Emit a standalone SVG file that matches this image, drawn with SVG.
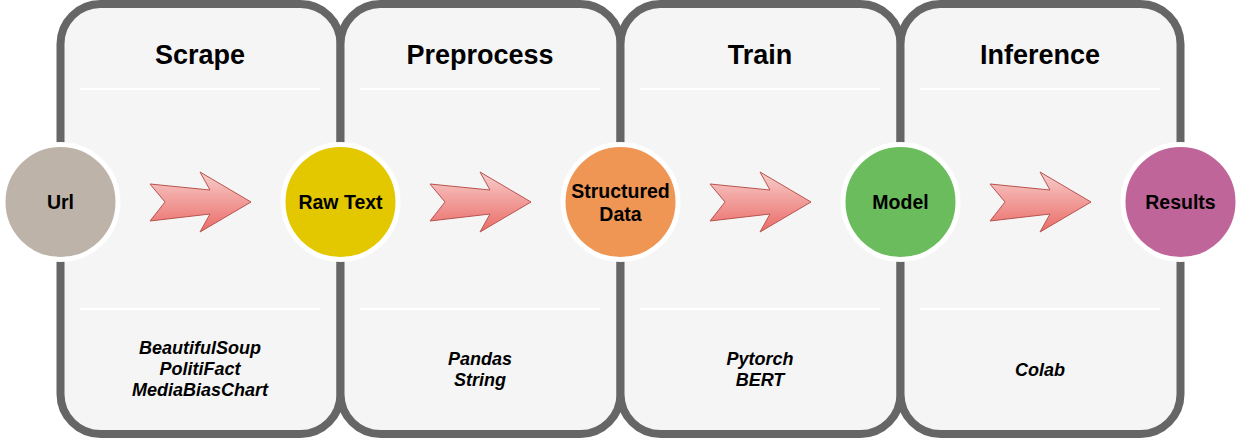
<svg xmlns="http://www.w3.org/2000/svg" width="1241" height="438" viewBox="0 0 1241 438">
<defs>
<linearGradient id="ag" x1="0" y1="0" x2="0" y2="1">
<stop offset="0" stop-color="#f8cecc"/>
<stop offset="1" stop-color="#ea6b66"/>
</linearGradient>
<polygon id="arrow" points="150,184 165,202 150,221 210,214 200,232 251,202 200,172 210,190"/>
</defs>
<style>
.panel{fill:#f5f5f5;stroke:#666666;stroke-width:8}
.sep{stroke:#ffffff;stroke-width:2}
.title{font-family:"Liberation Sans",Arial,sans-serif;font-weight:bold;font-size:27px;text-anchor:middle;fill:#000}
.tool{font-family:"Liberation Sans",Arial,sans-serif;font-weight:bold;font-style:italic;font-size:18px;text-anchor:middle;fill:#000}
.node{stroke:#ffffff;stroke-width:5}
.label{font-family:"Liberation Sans",Arial,sans-serif;font-weight:bold;font-size:19.5px;text-anchor:middle;fill:#000}
.arr{fill:url(#ag);stroke:#b85450;stroke-width:1}
</style>
<g id="panel-scrape">
<rect class="panel" x="60.5" y="4" width="280" height="430" rx="40" ry="40"/>
<line class="sep" x1="80" y1="89" x2="320" y2="89"/>
<line class="sep" x1="80" y1="309" x2="320" y2="309"/>
<text class="title" x="200" y="64">Scrape</text>
<text class="tool" x="200" y="354">BeautifulSoup</text>
<text class="tool" x="200" y="375">PolitiFact</text>
<text class="tool" x="200" y="396">MediaBiasChart</text>
</g>
<g id="panel-preprocess">
<rect class="panel" x="340.5" y="4" width="280" height="430" rx="40" ry="40"/>
<line class="sep" x1="360" y1="89" x2="600" y2="89"/>
<line class="sep" x1="360" y1="309" x2="600" y2="309"/>
<text class="title" x="480" y="64">Preprocess</text>
<text class="tool" x="480" y="365">Pandas</text>
<text class="tool" x="480" y="386">String</text>
</g>
<g id="panel-train">
<rect class="panel" x="620.5" y="4" width="280" height="430" rx="40" ry="40"/>
<line class="sep" x1="640" y1="89" x2="880" y2="89"/>
<line class="sep" x1="640" y1="309" x2="880" y2="309"/>
<text class="title" x="760" y="64">Train</text>
<text class="tool" x="760" y="365">Pytorch</text>
<text class="tool" x="760" y="386">BERT</text>
</g>
<g id="panel-inference">
<rect class="panel" x="900.5" y="4" width="280" height="430" rx="40" ry="40"/>
<line class="sep" x1="920" y1="89" x2="1160" y2="89"/>
<line class="sep" x1="920" y1="309" x2="1160" y2="309"/>
<text class="title" x="1040" y="64">Inference</text>
<text class="tool" x="1040" y="376">Colab</text>
</g>
<g id="connectors">
<use href="#arrow" class="arr"/>
<use href="#arrow" class="arr" transform="translate(280,0)"/>
<use href="#arrow" class="arr" transform="translate(560,0)"/>
<use href="#arrow" class="arr" transform="translate(840,0)"/>
</g>
<g id="node-url">
<circle class="node" cx="60.5" cy="202" r="57.5" fill="#bdb3a9"/>
<text class="label" x="60.5" y="209">Url</text>
</g>
<g id="node-rawtext">
<circle class="node" cx="340.5" cy="202" r="57.5" fill="#e3c800"/>
<text class="label" x="340.5" y="209">Raw Text</text>
</g>
<g id="node-structured">
<circle class="node" cx="620.5" cy="202" r="57.5" fill="#f09655"/>
<text class="label" x="620.5" y="198">Structured</text>
<text class="label" x="620.5" y="221">Data</text>
</g>
<g id="node-model">
<circle class="node" cx="900.5" cy="202" r="57.5" fill="#6abc5d"/>
<text class="label" x="900.5" y="209">Model</text>
</g>
<g id="node-results">
<circle class="node" cx="1180.5" cy="202" r="57.5" fill="#c0659a"/>
<text class="label" x="1180.5" y="209">Results</text>
</g>
</svg>
